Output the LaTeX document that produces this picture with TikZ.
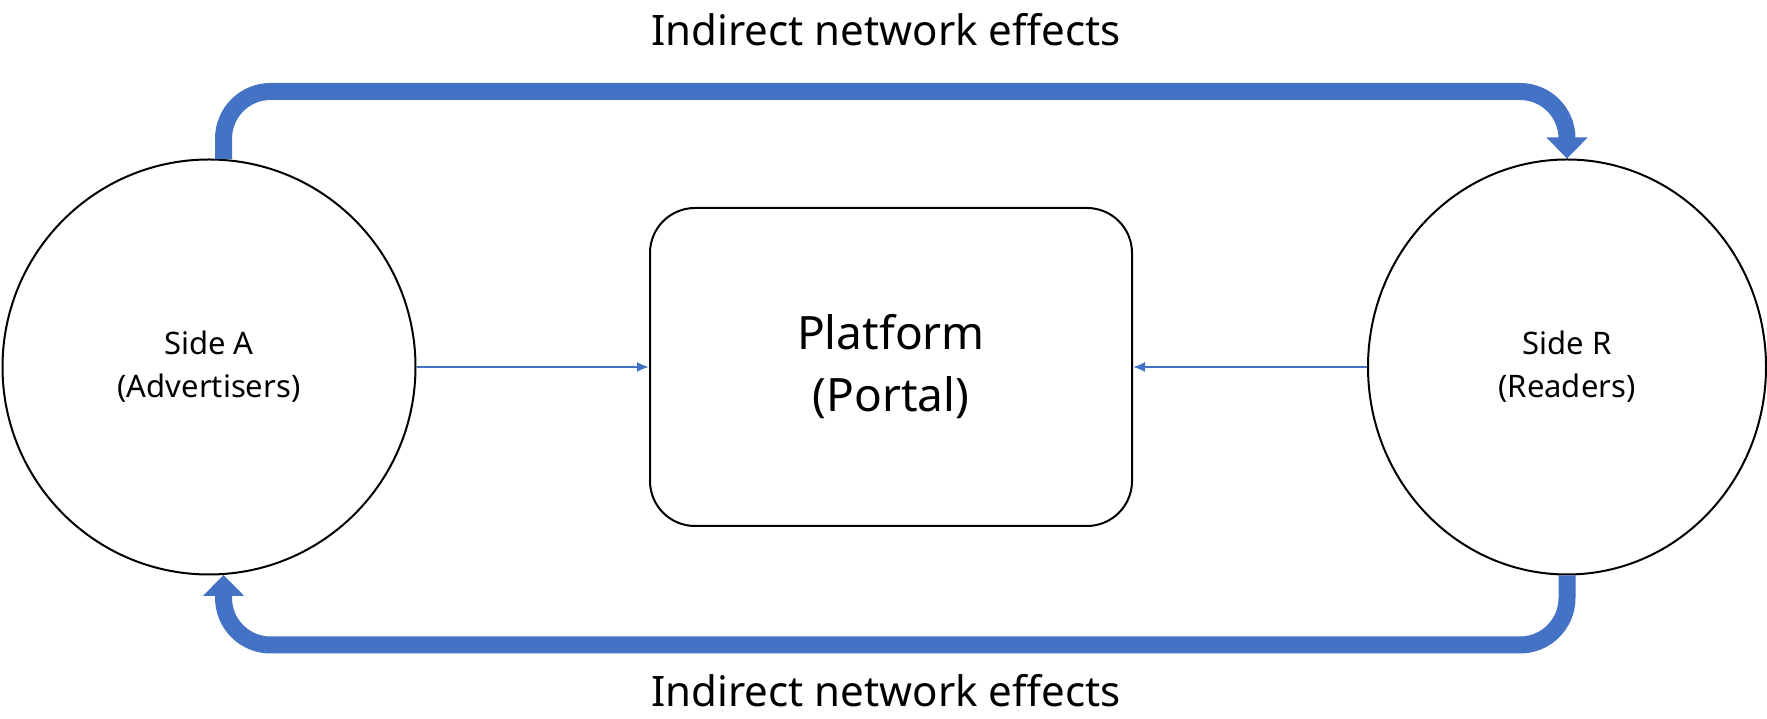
\documentclass[tikz,border=0pt]{standalone}
\usepackage{fontspec}
\setmainfont{Noto Sans}
\usetikzlibrary{arrows.meta,shapes.geometric}
\definecolor{flecha}{HTML}{4472C4}
\begin{document}
\begin{tikzpicture}[x=1pt, y=1pt,
    lado/.style={draw, ellipse, line width=2pt, inner sep=0pt, align=center, font=\fontsize{31}{43}\selectfont},
    plataforma/.style={draw, rectangle, rounded corners=45pt, line width=2pt, minimum width=482pt, minimum height=318pt, align=center, font=\fontsize{46}{62}\selectfont},
    efecto/.style={line width=17pt, draw=flecha, rounded corners=47pt, -{Triangle[width=40pt,length=21pt]}},
    enlace/.style={line width=2pt, draw=flecha, -{Latex[length=12pt,width=10pt]}},
    rotulo/.style={font=\fontsize{42}{48}\selectfont}]
    \useasboundingbox (0,0) rectangle (1767,719);
    % Lados y plataforma
    \node[lado, minimum width=413pt, minimum height=415pt] (ladoA) at (209,352) {Side A\\(Advertisers)};
    \node[lado, minimum width=398pt, minimum height=415pt] (ladoR) at (1567,352) {Side R\\(Readers)};
    \node[plataforma] (portal) at (891,352) {Platform\\(Portal)};
    \node[rotulo] (efectoSup) at (886,689) {Indirect network effects};
    \node[rotulo] (efectoInf) at (886,28) {Indirect network effects};
    % Efectos de red indirectos
    \coordinate (nivelSup) at (0,627.5);
    \coordinate (nivelInf) at (0,74);
    \draw[efecto] (ladoA.86) -- (ladoA.86 |- nivelSup) -| (ladoR.north);
    \draw[efecto] (ladoR.south) -- (ladoR.south |- nivelInf) -| (ladoA.274);
    % Flechas hacia la plataforma
    \draw[enlace] (ladoA.east) -- (portal.west);
    \draw[enlace] (ladoR.west) -- (portal.east);
\end{tikzpicture}
\end{document}
